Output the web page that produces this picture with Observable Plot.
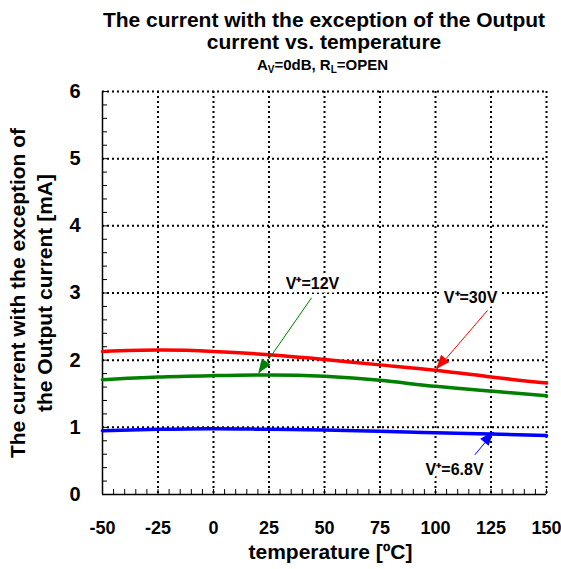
<!DOCTYPE html>
<html>
<head>
<meta charset="utf-8">
<script src="https://cdn.jsdelivr.net/npm/d3@7"></script>
<script src="https://cdn.jsdelivr.net/npm/@observablehq/plot@0.6"></script>
<style>
  html, body { margin: 0; padding: 0; background: #fff; }
  body { width: 561px; height: 569px; font-family: "Liberation Sans", Arial, sans-serif; overflow: hidden; }
  #title { height: 80px; position: relative; }
  #title div { position: absolute; left: 0; width: 561px; text-align: center; font-weight: bold; color: #000; white-space: nowrap; padding-left: 87px; box-sizing: border-box; }
  .t1 { top: 8px; font-size: 21px; }
  .t2 { top: 30px; font-size: 21px; }
  .t3 { top: 56px; font-size: 15px; padding-left: 84px !important; }
  sub { font-size: 10px; vertical-align: -3px; line-height: 0; }
</style>
</head>
<body>
<div id="title">
  <div class="t1">The current with the exception of the Output</div>
  <div class="t2">current vs. temperature</div>
  <div class="t3">A<sub>V</sub>=0dB, R<sub>L</sub>=OPEN</div>
</div>
<div id="chart"></div>
<script>
// Temperature points (°C)
const temps = [-50, -25, 0, 25, 50, 75, 100, 125, 150];
// Current (mA) for each supply voltage
const i30V  = [2.13, 2.15, 2.13, 2.08, 2.01, 1.93, 1.85, 1.75, 1.66];
const i12V  = [1.71, 1.75, 1.77, 1.78, 1.76, 1.70, 1.61, 1.54, 1.47];
const i68V  = [0.95, 0.97, 0.98, 0.97, 0.96, 0.94, 0.92, 0.90, 0.88];
const seriesNames  = ["V+=30V", "V+=12V", "V+=6.8V"];
const seriesColors = ["#ff0000", "#008000", "#0000ff"];

const xTicks = [-50, -25, 0, 25, 50, 75, 100, 125, 150];
const yTicks = [0, 1, 2, 3, 4, 5, 6];
const xMinor = d3.range(-50, 151, 5);
const yMinor = d3.range(0, 6.01, 0.2).map(v => +v.toFixed(2));

// Annotation labels and arrows
const labelText = ["V\u207A=30V", "V\u207A=12V", "V\u207A=6.8V"];
const labelX = [115.8, 44.6, 108.6];
const labelY = [2.93, 3.14, 0.36];
const arrowX1 = [123.4, 44.2, 117.7];
const arrowY1 = [2.74, 2.93, 0.59];
const arrowX2 = [100.5, 20.4, 126.3];
const arrowY2 = [1.86, 1.80, 0.93];

const series = [i30V, i12V, i68V];
const rows = [];
series.forEach((vals, s) => vals.forEach((v, k) => rows.push({t: temps[k], i: v, s: seriesNames[s], c: seriesColors[s]})));
const labels = labelText.map((t, k) => ({text: t, x: labelX[k], y: labelY[k], c: seriesColors[k]}));
const arrows = arrowX1.map((_, k) => ({x1: arrowX1[k], y1: arrowY1[k], x2: arrowX2[k], y2: arrowY2[k], c: seriesColors[k]}));

function arrowHeads(data) {
  return Plot.dot(data, {
    x: "x2", y: "y2",
    render(index, scales) {
      const g = d3.create("svg:g");
      for (const i of index) {
        const d = data[i];
        const ax = scales.x(d.x1), ay = scales.y(d.y1);
        const bx = scales.x(d.x2), by = scales.y(d.y2);
        const a = Math.atan2(by - ay, bx - ax);
        const L = 14, W = 5.5;
        const cx = bx - L * Math.cos(a), cy = by - L * Math.sin(a);
        const px = -Math.sin(a) * W, py = Math.cos(a) * W;
        g.append("path")
          .attr("d", `M${bx},${by}L${cx + px},${cy + py}L${cx - px},${cy - py}Z`)
          .attr("fill", d.c);
      }
      return g.node();
    }
  });
}

const fmt = d => String(d);

const chart = Plot.plot({
  width: 561,
  height: 489,
  marginLeft: 102,
  marginRight: 15,
  marginTop: 11,
  marginBottom: 75,
  style: {fontFamily: "'Liberation Sans', Arial, sans-serif", background: "white", color: "black", overflow: "visible"},
  x: {domain: [-50, 150], ticks: xTicks},
  y: {domain: [0, 6], ticks: yTicks},
  marks: [
    // dotted grid
    Plot.ruleX(xTicks.slice(1), {stroke: "black", strokeWidth: 2, strokeDasharray: "2,3"}),
    Plot.ruleY(yTicks.slice(1), {stroke: "black", strokeWidth: 2, strokeDasharray: "2,3"}),
    // minor ticks inward
    Plot.ruleX(xMinor, {y1: 0, y2: 0, insetTop: -5, stroke: "black", strokeWidth: 1}),
    Plot.ruleY(yMinor, {x1: -50, x2: -50, insetRight: -5, stroke: "black", strokeWidth: 1}),
    // axes lines
    Plot.ruleX([-50], {stroke: "black", strokeWidth: 1.5}),
    Plot.ruleY([0], {stroke: "black", strokeWidth: 1.5}),
    Plot.axisX({ticks: xTicks, tickFormat: fmt, tickSize: 0, tickPadding: 27, fontSize: 18, fontWeight: "bold", label: null}),
    Plot.axisY({ticks: yTicks, tickFormat: fmt, tickSize: 0, tickPadding: 22, fontSize: 20, fontWeight: "bold", label: null}),
    Plot.text(["temperature [ºC]"], {frameAnchor: "bottom", lineAnchor: "middle", dx: 6, dy: 58, fontSize: 21, fontWeight: "bold"}),
    Plot.text(["The current with the exception of\nthe Output current [mA]"], {frameAnchor: "left", textAnchor: "middle", dx: -73, rotate: -90, fontSize: 21, fontWeight: "bold", lineHeight: 1.28}),
    // curves
    Plot.line(rows, {x: "t", y: "i", z: "s", stroke: "c", strokeWidth: 3.5, curve: "natural"}),
    // annotations
    Plot.link(arrows, {x1: "x1", y1: "y1", x2: "x2", y2: "y2", stroke: "c", strokeWidth: 1}),
    arrowHeads(arrows),
    Plot.text(labels, {x: "x", y: "y", text: "text", fontSize: 16, fontWeight: "bold", fill: "black", stroke: "white", strokeWidth: 7, paintOrder: "stroke"})
  ]
});
document.getElementById("chart").appendChild(chart);
</script>
</body>
</html>
